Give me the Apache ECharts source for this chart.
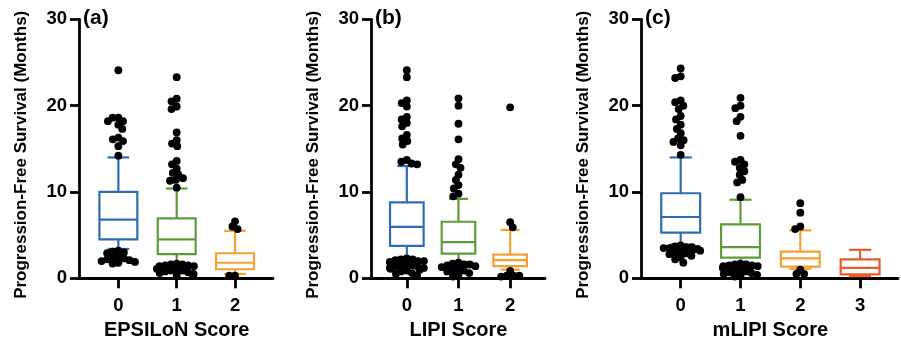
<!DOCTYPE html>
<html>
<head>
<meta charset="utf-8">
<script src="https://cdn.jsdelivr.net/npm/echarts@6/dist/echarts.min.js"></script>
<style>
html,body{margin:0;padding:0;background:#fff;}
#chart{width:901px;height:348px;}
</style>
</head>
<body>
<div id="chart"></div>
<script>
// ---- Data ----
const yTicks = [0, 10, 20, 30];

const epsCats = ['0', '1', '2'];
// [lower whisker, Q1, median, Q3, upper whisker]
const epsBox = [
  [3.4, 4.5, 6.8, 10.0, 14.0],
  [1.75, 2.8, 4.5, 6.95, 10.4],
  [0.5, 1.05, 1.8, 2.9, 5.5]
];
const epsOut0 = [24.1, 18.6, 18.6, 18.2, 18.2, 17.8, 17.3, 16.3, 16.1, 15.9, 15.3, 14.2,
  3.2, 3.1, 3.0, 2.9, 2.5, 2.4, 2.3, 2.2, 2.1, 2.0, 1.9, 1.8, 1.7];
const epsOut1 = [23.3, 20.8, 20.5, 19.9, 19.6, 16.9, 16.0, 15.6, 15.3, 13.6, 13.2, 12.7, 12.2, 12.0, 11.6, 11.4, 11.3, 10.5,
  1.7, 1.6, 1.6, 1.5, 1.5, 1.4, 1.4, 1.3, 1.3, 1.2, 1.2, 1.1, 1.1, 1.0, 1.0, 0.9, 0.9, 0.8, 0.7, 0.6, 0.5, 0.4, 0.3, 0.3];
const epsOut2 = [6.6, 6.0, 5.7, 0.3, 0.3];

const lipiCats = ['0', '1', '2'];
const lipiBox = [
  [2.4, 3.75, 5.95, 8.8, 13.0],
  [1.9, 2.85, 4.2, 6.55, 9.2],
  [1.0, 1.4, 2.1, 2.75, 5.6]
];
const lipiOut0 = [24.1, 23.3, 20.6, 20.3, 19.9, 18.7, 18.4, 18.0, 17.6, 16.6, 16.2, 15.9, 15.5, 13.7, 13.5, 13.3, 13.2,
  2.3, 2.2, 2.2, 2.1, 2.0, 2.0, 1.9, 1.8, 1.8, 1.7, 1.6, 1.6, 1.5, 1.5, 1.4, 1.3, 1.2, 1.2, 1.1, 1.0, 0.9, 0.8, 0.6, 0.5, 0.3];
const lipiOut1 = [20.85, 20.0, 17.9, 16.1, 13.8, 13.2, 12.8, 12.0, 11.4, 10.8, 10.4, 9.8, 9.5,
  1.8, 1.7, 1.6, 1.6, 1.5, 1.4, 1.3, 1.2, 1.2, 1.1, 1.0, 0.9, 0.8, 0.6, 0.4, 0.2];
const lipiOut2 = [19.8, 6.5, 5.9, 0.85, 0.3, 0.3, 0.3, 0.2];

const mlipiCats = ['0', '1', '2', '3'];
const mlipiBox = [
  [3.9, 5.3, 7.1, 9.85, 14.0],
  [1.7, 2.4, 3.6, 6.25, 9.1],
  [1.1, 1.35, 2.3, 3.1, 5.55],
  [0.25, 0.45, 1.2, 2.2, 3.3]
];
const mlipiOut0 = [24.3, 23.4, 23.2, 20.6, 20.4, 20.0, 19.6, 18.8, 18.4, 17.8, 17.3, 16.8, 16.2, 16.0, 15.8, 15.4, 14.3,
  3.8, 3.7, 3.6, 3.6, 3.5, 3.5, 3.4, 3.4, 3.3, 3.2, 3.1, 3.0, 2.9, 2.8, 2.6, 2.4, 2.2, 1.8];
const mlipiOut1 = [20.9, 20.0, 19.7, 18.7, 18.2, 16.5, 13.7, 13.5, 13.2, 12.8, 12.4, 12.0, 11.4, 11.1, 9.4,
  1.7, 1.6, 1.6, 1.5, 1.5, 1.4, 1.4, 1.3, 1.2, 1.2, 1.1, 1.0, 1.0, 0.9, 0.8, 0.7, 0.6, 0.5, 0.4, 0.3, 0.2];
const mlipiOut2 = [8.7, 7.6, 6.0, 5.7, 1.0, 0.5, 0.5];
const mlipiOut3 = [];

const boxColors = ['#2e6db5', '#5e9c3b', '#f5a030', '#ec5a2c'];

// ---- Layout ----
const FONT = 'Liberation Sans, Arial, Helvetica, sans-serif';
const panels = [
  { tag: '(a)', xName: 'EPSILoN Score', cats: epsCats, box: epsBox, outs: [epsOut0, epsOut1, epsOut2],
    outer: { left: 79, width: 194 }, inner: { left: 89.2, width: 175 }, jitter: 40 },
  { tag: '(b)', xName: 'LIPI Score', cats: lipiCats, box: lipiBox, outs: [lipiOut0, lipiOut1, lipiOut2],
    outer: { left: 371, width: 174 }, inner: { left: 381, width: 155 }, jitter: 36 },
  { tag: '(c)', xName: 'mLIPI Score', cats: mlipiCats, box: mlipiBox, outs: [mlipiOut0, mlipiOut1, mlipiOut2, mlipiOut3],
    outer: { left: 641, width: 257 }, inner: { left: 650.8, width: 239.2 }, jitter: 40 }
];
const TOP = 19.3, HEIGHT = 259;

function renderBox(params, api) {
  const x = api.value(0);
  const lo = api.coord([x, api.value(1)]);
  const q1 = api.coord([x, api.value(2)]);
  const md = api.coord([x, api.value(3)]);
  const q3 = api.coord([x, api.value(4)]);
  const hi = api.coord([x, api.value(5)]);
  const band = api.size([1, 0])[0];
  const bw = band * 0.65 / 2, cw = band * 0.37 / 2;
  const cx = md[0];
  const color = boxColors[x];
  const st = { stroke: color, lineWidth: 2.2, fill: 'none' };
  return {
    type: 'group',
    children: [
      { type: 'rect', shape: { x: cx - bw, y: q3[1], width: 2 * bw, height: q1[1] - q3[1] }, style: st },
      { type: 'line', shape: { x1: cx - bw, y1: md[1], x2: cx + bw, y2: md[1] }, style: st },
      { type: 'line', shape: { x1: cx, y1: q3[1], x2: cx, y2: hi[1] }, style: st },
      { type: 'line', shape: { x1: cx, y1: q1[1], x2: cx, y2: lo[1] }, style: st },
      { type: 'line', shape: { x1: cx - cw, y1: hi[1], x2: cx + cw, y2: hi[1] }, style: st },
      { type: 'line', shape: { x1: cx - cw, y1: lo[1], x2: cx + cw, y2: lo[1] }, style: st }
    ]
  };
}

const grid = [], xAxis = [], yAxis = [], series = [], title = [];
panels.forEach((p, k) => {
  const gOuter = grid.length;
  grid.push({ left: p.outer.left, width: p.outer.width, top: TOP, height: HEIGHT, containLabel: false, outerBoundsMode: 'none' });
  const gInner = grid.length;
  grid.push({ left: p.inner.left, width: p.inner.width, top: TOP, height: HEIGHT, containLabel: false, outerBoundsMode: 'none' });

  // outer: axis lines + y ticks/labels/name
  xAxis.push({ gridIndex: gOuter, type: 'value', min: 0, max: 1,
    axisLine: { show: true, onZero: false, lineStyle: { color: '#000', width: 2.8 } },
    axisTick: { show: false }, axisLabel: { show: false }, splitLine: { show: false } });
  yAxis.push({ gridIndex: gOuter, type: 'value', min: yTicks[0], max: yTicks[yTicks.length - 1], interval: 10,
    axisLine: { show: true, onZero: false, lineStyle: { color: '#000', width: 2.8 } },
    axisTick: { show: true, length: 9, lineStyle: { color: '#000', width: 2.8 } },
    axisLabel: { color: '#000', fontSize: 18.5, fontWeight: 'bold', fontFamily: FONT, margin: 12 },
    splitLine: { show: false },
    name: 'Progression-Free Survival (Months)', nameLocation: 'middle', nameGap: 49,
    nameTextStyle: { color: '#000', fontSize: 17, fontWeight: 'bold', fontFamily: FONT, padding: [0, 12, 0, 0] } });

  // inner: category axis
  const xi = xAxis.length;
  xAxis.push({ gridIndex: gInner, type: 'category', data: p.cats, jitter: p.jitter, jitterOverlap: false, jitterMargin: -2,
    axisLine: { show: false },
    axisTick: { show: true, alignWithLabel: true, length: 10, lineStyle: { color: '#000', width: 2.8 } },
    axisLabel: { color: '#000', fontSize: 18.5, fontWeight: 'bold', fontFamily: FONT, margin: 18 },
    splitLine: { show: false },
    name: p.xName, nameLocation: 'middle', nameGap: 37,
    nameTextStyle: { color: '#000', fontSize: 20, fontWeight: 'bold', fontFamily: FONT } });
  const yi = yAxis.length;
  yAxis.push({ gridIndex: gInner, type: 'value', min: 0, max: 30, interval: 10, show: false });

  series.push({ type: 'custom', xAxisIndex: xi, yAxisIndex: yi, renderItem: renderBox,
    encode: { x: 0, y: [1, 2, 3, 4, 5] }, z: 2, silent: true,
    data: p.box.map((b, i) => [i].concat(b)) });

  const pts = [];
  p.outs.forEach((arr, i) => arr.forEach(v => pts.push([i, v])));
  series.push({ type: 'scatter', xAxisIndex: xi, yAxisIndex: yi, symbol: 'circle', symbolSize: 7.8,
    itemStyle: { color: '#000', opacity: 1 }, z: 3, silent: true, data: pts });

  title.push({ text: p.tag, left: p.outer.left + 4, top: 8, padding: 0,
    textStyle: { color: '#000', fontSize: 21, fontWeight: 'bold', fontFamily: FONT } });
});

const chart = echarts.init(document.getElementById('chart'), null, { renderer: 'canvas' });
chart.setOption({ animation: false, backgroundColor: '#fff', title, grid, xAxis, yAxis, series });
</script>
</body>
</html>
